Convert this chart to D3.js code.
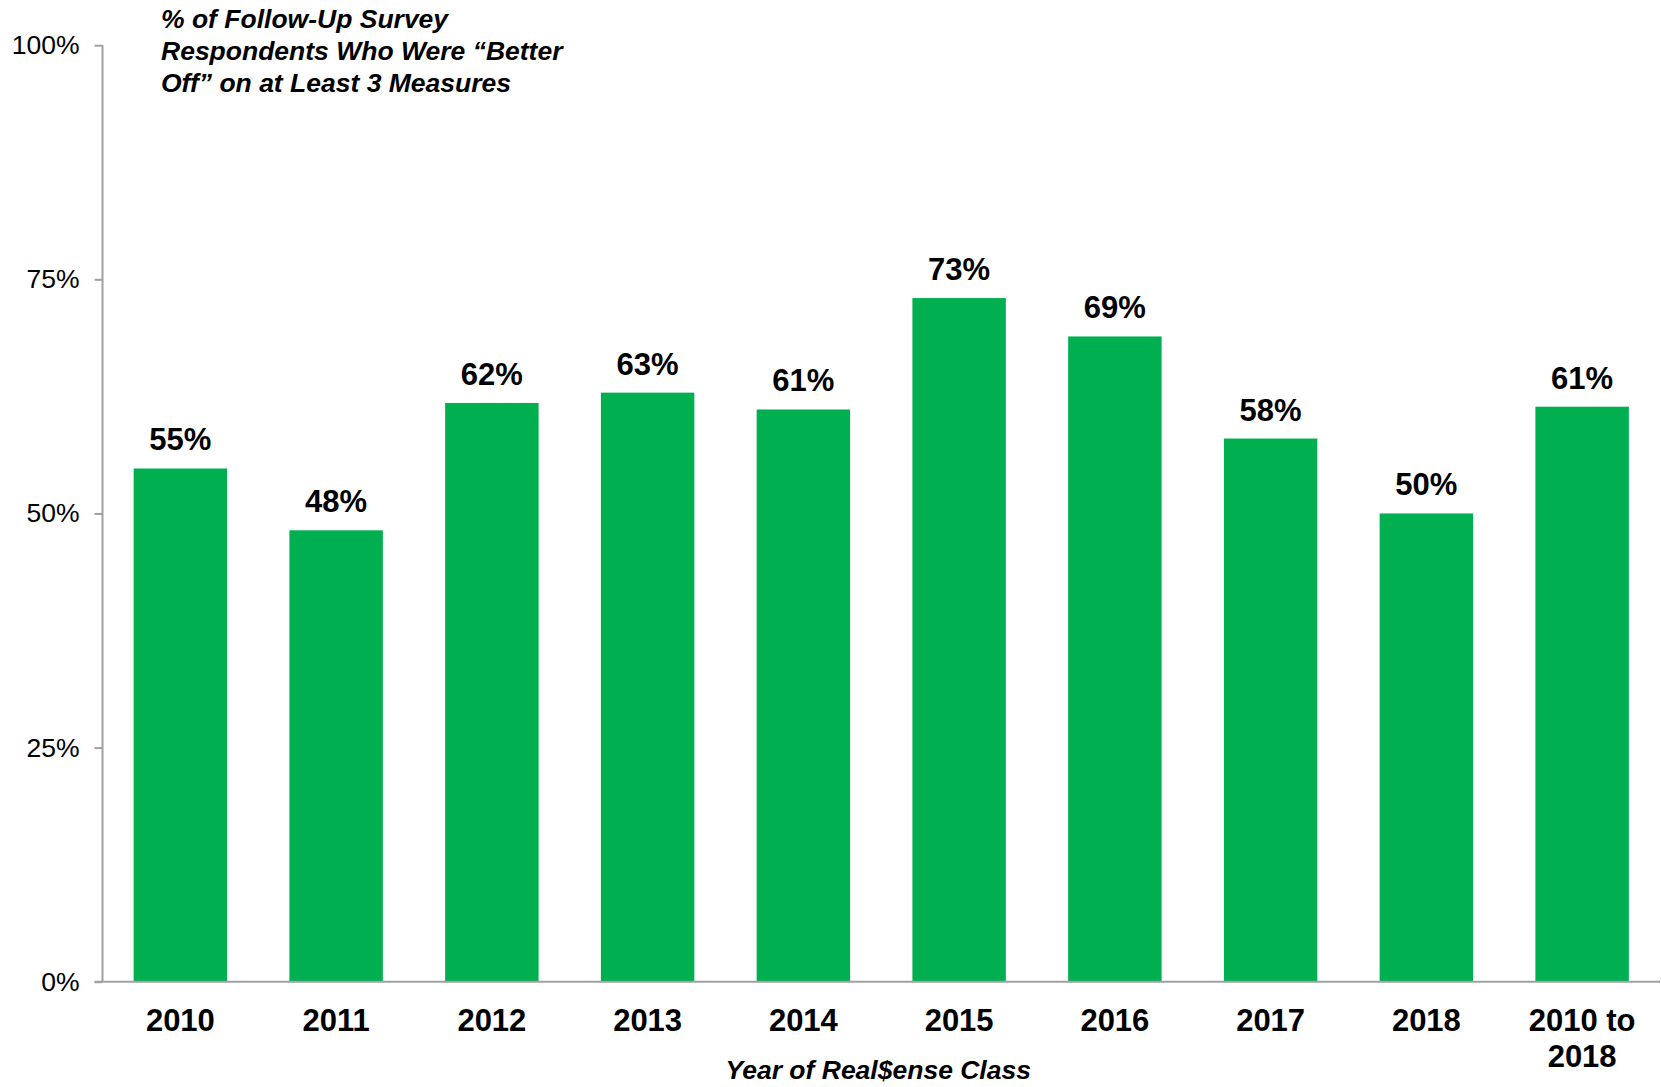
<!DOCTYPE html>
<html>
<head>
<meta charset="utf-8">
<script src="https://cdn.jsdelivr.net/npm/d3@7"></script>
<style>
  html, body { margin: 0; padding: 0; background: #fff; }
  svg { display: block; font-family: Arial, "Liberation Sans", sans-serif; }
</style>
</head>
<body>
<svg id="chart" width="1661" height="1087"></svg>
<script>
// Share of follow-up survey respondents "better off" on at least 3 measures
const categories = ["2010", "2011", "2012", "2013", "2014", "2015", "2016", "2017", "2018", "2010 to 2018"];
const values = [0.548, 0.482, 0.618, 0.629, 0.611, 0.730, 0.689, 0.580, 0.500, 0.614];
const yTicks = [0, 0.25, 0.5, 0.75, 1];
const titleLines = ["% of Follow-Up Survey", "Respondents Who Were \u201cBetter", "Off\u201d on at Least 3 Measures"];
const xTitle = "Year of Real$ense Class";

const svg = d3.select("#chart");
const plotLeft = 102.5, plotRight = 1660, plotTop = 45.2, plotBottom = 981.7;
const green = "#00B050", axisGray = "#A0A0A0";

const x = d3.scaleBand().domain(categories).range([plotLeft, plotRight]).paddingInner(0.4).paddingOuter(0.2);
const y = d3.scaleLinear().domain([0, 1]).range([plotBottom, plotTop]);

// bars
svg.append("g").selectAll("rect").data(values).join("rect")
  .attr("x", (d, i) => x(categories[i]))
  .attr("width", x.bandwidth())
  .attr("y", d => y(d))
  .attr("height", d => y(0) - y(d))
  .attr("fill", green);

// value labels
svg.append("g").selectAll("text").data(values).join("text")
  .attr("x", (d, i) => x(categories[i]) + x.bandwidth() / 2)
  .attr("y", d => y(d) - 18)
  .attr("text-anchor", "middle")
  .attr("font-size", 31).attr("font-weight", "bold").attr("fill", "#000")
  .text(d => d3.format(".0%")(d));

// y axis
const yAxis = svg.append("g").attr("transform", `translate(${plotLeft},0)`)
  .call(d3.axisLeft(y).tickValues(yTicks).tickFormat(d3.format(".0%")).tickSize(8).tickPadding(15));
yAxis.select(".domain").attr("stroke", axisGray).attr("stroke-width", 2).attr("d", `M0,${plotTop}H0V${plotBottom}`);
yAxis.selectAll(".tick line").attr("stroke", axisGray).attr("stroke-width", 2);
yAxis.selectAll(".tick text").attr("font-size", 26.5).attr("fill", "#000").attr("font-family", "Arial, 'Liberation Sans', sans-serif");

// x baseline
const xAxis = svg.append("g").attr("transform", `translate(0,${plotBottom})`)
  .call(d3.axisBottom(x).tickSize(0).tickPadding(0).tickFormat(""));
xAxis.select(".domain").attr("stroke", axisGray).attr("stroke-width", 2).attr("d", `M${plotLeft - 8},0H${plotRight}`);

// category labels (wrapped onto two lines where needed)
const catLines = c => c === "2010 to 2018" ? ["2010 to", "2018"] : [c];
const catG = svg.append("g");
categories.forEach(c => {
  const t = catG.append("text")
    .attr("x", x(c) + x.bandwidth() / 2)
    .attr("y", 1030.7)
    .attr("text-anchor", "middle")
    .attr("font-size", 31).attr("font-weight", "bold").attr("fill", "#000");
  catLines(c).forEach((ln, i) => {
    t.append("tspan").attr("x", x(c) + x.bandwidth() / 2).attr("dy", i === 0 ? 0 : 36).text(ln);
  });
});

// axis title
svg.append("text")
  .attr("x", (plotLeft + plotRight) / 2 - 3).attr("y", 1079)
  .attr("text-anchor", "middle")
  .attr("font-size", 26.5).attr("font-weight", "bold").attr("font-style", "italic").attr("fill", "#000")
  .text(xTitle);

// chart title, top-left
const title = svg.append("text").attr("x", 161).attr("y", 28)
  .attr("font-size", 26.5).attr("font-weight", "bold").attr("font-style", "italic").attr("fill", "#000");
titleLines.forEach((ln, i) => {
  title.append("tspan").attr("x", 161).attr("dy", i === 0 ? 0 : 32).text(ln);
});
</script>
</body>
</html>
